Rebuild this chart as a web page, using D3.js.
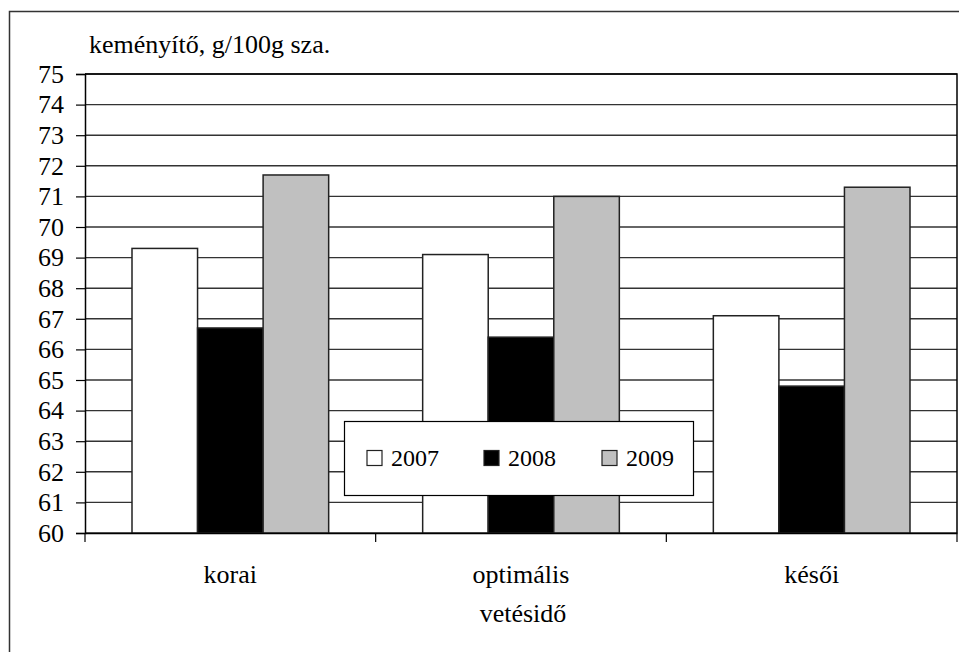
<!DOCTYPE html>
<html>
<head>
<meta charset="utf-8">
<script src="https://cdn.jsdelivr.net/npm/d3@7"></script>
</head>
<body style="margin:0; background:#fff">
<div id="app"></div>
<script>
  const categories = ["korai", "optimális", "késői"];
  const years = ["2007", "2008", "2009"];
  const values2007 = [69.3, 69.1, 67.1];
  const values2008 = [66.7, 66.4, 64.8];
  const values2009 = [71.7, 71.0, 71.3];
  const yTicks = d3.range(60, 76, 1);
  const yTitle = "keményítő, g/100g sza.";
  const xTitle = "vetésidő";

  const series = [values2007, values2008, values2009];
  const colors = ["#ffffff", "#000000", "#c0c0c0"];

  let width = 959,
    height = 652;

  let plot = { left: 85, right: 957, top: 74, bottom: 533 },
    font = "Liberation Serif",
    gridStroke = "#333",
    barStroke = "#222";

  const svg = d3.select("#app")
    .append("svg")
    .attr("width", width)
    .attr("height", height)
    .attr("font-family", font);

  // outer chart frame
  svg.append("rect")
    .attr("x", 9.5).attr("y", 11.5)
    .attr("width", 980).attr("height", 700)
    .attr("fill", "none")
    .attr("stroke", "#333")
    .attr("stroke-width", 1.5);

  const x0 = d3.scaleBand()
    .domain(categories)
    .range([plot.left, plot.right])
    .padding(0);

  const gap = 47;
  const x1 = d3.scaleBand()
    .domain(years)
    .range([gap, x0.bandwidth() - gap])
    .padding(0);

  const y = d3.scaleLinear()
    .domain([60, 75])
    .range([plot.bottom, plot.top]);

  // gridlines
  svg.append("g")
    .selectAll("line")
    .data(yTicks)
    .join("line")
    .attr("x1", plot.left).attr("x2", plot.right)
    .attr("y1", d => y(d)).attr("y2", d => y(d))
    .attr("stroke", gridStroke)
    .attr("stroke-width", 1.4);

  // plot frame (top + right)
  svg.append("path")
    .attr("d", `M${plot.left},${plot.top}H${plot.right}V${plot.bottom}`)
    .attr("fill", "none")
    .attr("stroke", "#000")
    .attr("stroke-width", 1.5);

  // bars
  const groups = svg.append("g")
    .selectAll("g")
    .data(categories)
    .join("g")
    .attr("transform", d => `translate(${x0(d)},0)`);

  groups.selectAll("rect")
    .data((c, i) => years.map((yr, j) => ({ yr, v: series[j][i], j })))
    .join("rect")
    .attr("x", d => x1(d.yr))
    .attr("y", d => y(d.v))
    .attr("width", x1.bandwidth())
    .attr("height", d => y(60) - y(d.v))
    .attr("fill", d => colors[d.j])
    .attr("stroke", barStroke)
    .attr("stroke-width", 1.5);

  // y axis
  const yAxis = svg.append("g")
    .attr("transform", `translate(${plot.left},0)`)
    .call(d3.axisLeft(y).tickValues(yTicks).tickSize(9).tickPadding(12).tickFormat(d3.format("d")))
    .attr("font-family", font)
    .attr("font-size", 26);
  yAxis.select(".domain").attr("stroke", "#000").attr("stroke-width", 1.5);
  yAxis.selectAll(".tick line").attr("stroke", "#000").attr("stroke-width", 1.2);
  yAxis.selectAll("text").attr("fill", "#000");

  // x axis
  const xAxis = svg.append("g")
    .attr("transform", `translate(0,${plot.bottom})`)
    .call(d3.axisBottom(x0).tickSize(0).tickPadding(0).tickFormat(""));
  xAxis.select(".domain").attr("stroke", "#000").attr("stroke-width", 1.5);
  xAxis.selectAll(".tick").remove();

  const xBoundaries = categories.map(c => x0(c)).concat([x0(categories[categories.length - 1]) + x0.bandwidth()]);
  xAxis.selectAll(".sep")
    .data(xBoundaries)
    .join("line")
    .attr("class", "sep")
    .attr("x1", d => d).attr("x2", d => d)
    .attr("y1", 0).attr("y2", 9)
    .attr("stroke", "#000")
    .attr("stroke-width", 1.2);

  svg.append("g")
    .selectAll("text")
    .data(categories)
    .join("text")
    .attr("x", d => x0(d) + x0.bandwidth() / 2)
    .attr("y", 583)
    .attr("text-anchor", "middle")
    .attr("font-family", font)
    .attr("font-size", 26)
    .text(d => d);

  svg.append("text")
    .attr("x", (plot.left + plot.right) / 2 + 2)
    .attr("y", 622)
    .attr("text-anchor", "middle")
    .attr("font-family", font)
    .attr("font-size", 26)
    .text(xTitle);

  svg.append("text")
    .attr("x", 89)
    .attr("y", 53)
    .attr("font-family", font)
    .attr("font-size", 26)
    .text(yTitle);

  // legend
  const legend = svg.append("g").attr("transform", "translate(344,421)");
  legend.append("rect")
    .attr("x", 0.5).attr("y", 0.5)
    .attr("width", 349).attr("height", 74)
    .attr("fill", "#fff")
    .attr("stroke", "#000")
    .attr("stroke-width", 1.2);

  const legendX = [23, 140, 258];
  const item = legend.selectAll(".item")
    .data(years)
    .join("g")
    .attr("class", "item")
    .attr("transform", (d, i) => `translate(${legendX[i]},0)`);
  item.append("rect")
    .attr("x", 0).attr("y", 29.5)
    .attr("width", 15).attr("height", 15)
    .attr("fill", (d, i) => colors[i])
    .attr("stroke", "#222")
    .attr("stroke-width", 1.2);
  item.append("text")
    .attr("x", 24)
    .attr("y", 45)
    .attr("font-family", font)
    .attr("font-size", 24)
    .text(d => d);
</script>
</body>
</html>
